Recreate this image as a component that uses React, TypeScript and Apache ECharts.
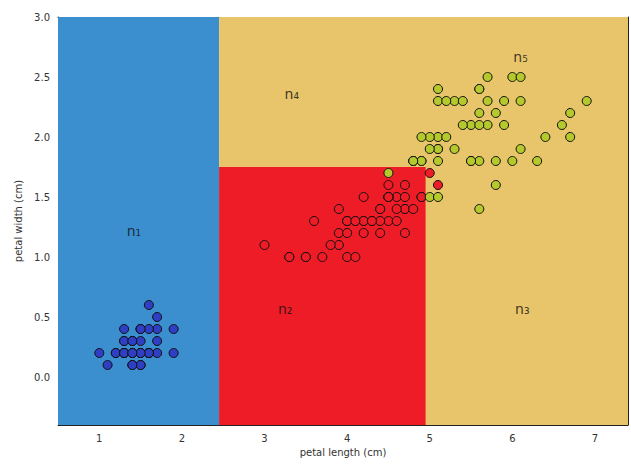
import React, { useEffect, useRef } from "react";
import * as echarts from "echarts";

// iris petal (length, width) per class
const setosa: number[][] = [
  [1.4, 0.2], [1.4, 0.2], [1.3, 0.2], [1.5, 0.2], [1.4, 0.2], [1.7, 0.4], [1.4, 0.3], [1.5, 0.2], [1.4, 0.2], [1.5, 0.1],
  [1.5, 0.2], [1.6, 0.2], [1.4, 0.1], [1.1, 0.1], [1.2, 0.2], [1.5, 0.4], [1.3, 0.4], [1.4, 0.3], [1.7, 0.3], [1.5, 0.3],
  [1.7, 0.2], [1.5, 0.4], [1.0, 0.2], [1.7, 0.5], [1.9, 0.2], [1.6, 0.2], [1.6, 0.4], [1.5, 0.2], [1.4, 0.2], [1.6, 0.2],
  [1.6, 0.2], [1.5, 0.4], [1.5, 0.1], [1.4, 0.2], [1.5, 0.2], [1.2, 0.2], [1.3, 0.2], [1.4, 0.1], [1.3, 0.2], [1.5, 0.2],
  [1.3, 0.3], [1.3, 0.3], [1.3, 0.2], [1.6, 0.6], [1.9, 0.4], [1.4, 0.3], [1.6, 0.2], [1.4, 0.2], [1.5, 0.2], [1.4, 0.2],
];
const versicolor: number[][] = [
  [4.7, 1.4], [4.5, 1.5], [4.9, 1.5], [4.0, 1.3], [4.6, 1.5], [4.5, 1.3], [4.7, 1.6], [3.3, 1.0], [4.6, 1.3], [3.9, 1.4],
  [3.5, 1.0], [4.2, 1.5], [4.0, 1.0], [4.7, 1.4], [3.6, 1.3], [4.4, 1.4], [4.5, 1.5], [4.1, 1.0], [4.5, 1.5], [3.9, 1.1],
  [4.8, 1.8], [4.0, 1.3], [4.9, 1.5], [4.7, 1.2], [4.3, 1.3], [4.4, 1.4], [4.8, 1.4], [5.0, 1.7], [4.5, 1.5], [3.5, 1.0],
  [3.8, 1.1], [3.7, 1.0], [3.9, 1.2], [5.1, 1.6], [4.5, 1.5], [4.5, 1.6], [4.7, 1.5], [4.4, 1.3], [4.1, 1.3], [4.0, 1.3],
  [4.4, 1.2], [4.6, 1.4], [4.0, 1.2], [3.3, 1.0], [4.2, 1.3], [4.2, 1.2], [4.2, 1.3], [4.3, 1.3], [3.0, 1.1], [4.1, 1.3],
];
const virginica: number[][] = [
  [6.0, 2.5], [5.1, 1.9], [5.9, 2.1], [5.6, 1.8], [5.8, 2.2], [6.6, 2.1], [4.5, 1.7], [6.3, 1.8], [5.8, 1.8], [6.1, 2.5],
  [5.1, 2.0], [5.3, 1.9], [5.5, 2.1], [5.0, 2.0], [5.1, 2.4], [5.3, 2.3], [5.5, 1.8], [6.7, 2.2], [6.9, 2.3], [5.0, 1.5],
  [5.7, 2.3], [4.9, 2.0], [6.7, 2.0], [4.9, 1.8], [5.7, 2.1], [6.0, 1.8], [4.8, 1.8], [4.9, 1.8], [5.6, 2.1], [5.8, 1.6],
  [6.1, 1.9], [6.4, 2.0], [5.6, 2.2], [5.1, 1.5], [5.6, 1.4], [6.1, 2.3], [5.6, 2.4], [5.5, 1.8], [4.8, 1.8], [5.4, 2.1],
  [5.6, 2.4], [5.1, 2.3], [5.1, 1.9], [5.9, 2.3], [5.7, 2.5], [5.2, 2.3], [5.0, 1.9], [5.2, 2.0], [5.4, 2.3], [5.1, 1.8],
];

// decision regions: [x0, y0, x1, y1]
const regionBlue = [0.5, -0.4, 2.45, 3.0];
const regionYellow = [2.45, -0.4, 7.4, 3.0];
const regionRed = [2.45, -0.4, 4.95, 1.75];

// node labels and their positions
const nodeNames = ["n₁", "n₂", "n₃", "n₄", "n₅"];
const nodePos: number[][] = [
  [1.42, 1.22],
  [3.25, 0.57],
  [6.12, 0.57],
  [3.33, 2.36],
  [6.1, 2.67],
];

const xTicks = [1, 2, 3, 4, 5, 6, 7];
const yTicks = [0.0, 0.5, 1.0, 1.5, 2.0, 2.5, 3.0];

const BLUE = "#3b8fcf";
const RED = "#ee1c26";
const YELLOW = "#e8c56a";

export default function App() {
  const ref = useRef<HTMLDivElement>(null);
  useEffect(() => {
    const chart = echarts.init(ref.current!, null, { renderer: "svg" });
    const font = "DejaVu Sans";
    const area = (r: number[], color: string) => [
      { coord: [r[0], r[1]], itemStyle: { color, opacity: 1 } },
      { coord: [r[2], r[3]] },
    ];
    const pointSeries = (data: number[][], color: string, z: number) => ({
      type: "scatter",
      data,
      symbolSize: 9,
      z,
      itemStyle: { color, borderColor: "#111", borderWidth: 1, opacity: 1 },
      emphasis: { disabled: true },
    });
    chart.setOption({
      animation: false,
      textStyle: { fontFamily: font },
      grid: { left: 58, right: 3, top: 17, bottom: 41 },
      xAxis: [
        {
          type: "value",
          min: 0.5,
          max: 7.4,
          name: "petal length (cm)",
          nameLocation: "middle",
          nameGap: 22,
          nameTextStyle: { fontSize: 10, color: "#333", fontFamily: font },
          axisLine: { show: true, onZero: false, lineStyle: { color: "#222", width: 1 } },
          axisTick: { show: true, inside: true, length: 4, lineStyle: { color: "#222" }, customValues: xTicks },
          axisLabel: { fontSize: 10, color: "#333", margin: 8, customValues: xTicks, formatter: (v: number) => String(v) },
          splitLine: { show: false },
        },
        {
          type: "value",
          position: "top",
          min: 0.5,
          max: 7.4,
          axisLine: { show: true, onZero: false, lineStyle: { color: "#222", width: 1 } },
          axisTick: { show: true, inside: true, length: 4, lineStyle: { color: "#222" }, customValues: xTicks },
          axisLabel: { show: false },
          splitLine: { show: false },
        },
      ],
      yAxis: [
        {
          type: "value",
          min: -0.4,
          max: 3.0,
          name: "petal width (cm)",
          nameLocation: "middle",
          nameGap: 33,
          nameTextStyle: { fontSize: 10, color: "#333", fontFamily: font },
          axisLine: { show: true, onZero: false, lineStyle: { color: "#222", width: 1 } },
          axisTick: { show: true, inside: true, length: 4, lineStyle: { color: "#222" }, customValues: yTicks },
          axisLabel: { fontSize: 10, color: "#333", margin: 8, customValues: yTicks, formatter: (v: number) => v.toFixed(1) },
          splitLine: { show: false },
        },
        {
          type: "value",
          position: "right",
          min: -0.4,
          max: 3.0,
          axisLine: { show: true, onZero: false, lineStyle: { color: "#222", width: 1 } },
          axisTick: { show: true, inside: true, length: 4, lineStyle: { color: "#222" }, customValues: yTicks },
          axisLabel: { show: false },
          splitLine: { show: false },
        },
      ],
      series: [
        {
          type: "scatter",
          data: [],
          z: 1,
          markArea: {
            silent: true,
            data: [
              area(regionBlue, BLUE),
              area(regionYellow, YELLOW),
              area(regionRed, RED),
            ],
          },
        },
        pointSeries(setosa, "#2e3fc4", 3),
        pointSeries(versicolor, RED, 3),
        pointSeries(virginica, "#b5c82c", 3),
        {
          type: "scatter",
          z: 4,
          symbolSize: 0,
          data: nodePos.map((p, i) => ({ value: p, name: nodeNames[i] })),
          label: {
            show: true,
            position: "inside",
            formatter: (p: any) => p.name,
            fontSize: 14,
            color: "#111",
            fontFamily: font,
          },
          emphasis: { disabled: true },
        },
      ],
    });
    return () => chart.dispose();
  }, []);
  return <div ref={ref} style={{ width: 631, height: 466, position: "absolute", left: 0, top: 0, background: "#fff" }} />;
}
